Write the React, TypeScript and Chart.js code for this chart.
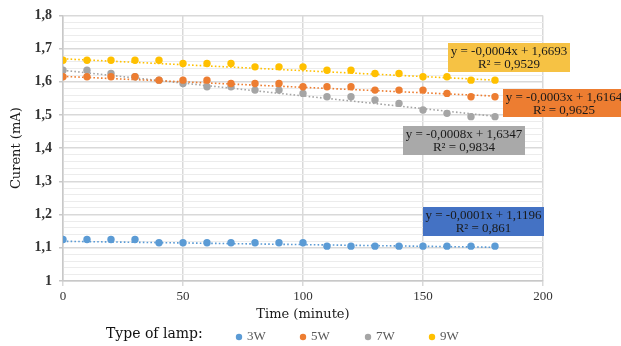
import React, { useEffect, useRef } from 'react';
import { Chart, registerables } from 'chart.js';

Chart.register(...registerables);

const timeMinutes = [0, 10, 20, 30, 40, 50, 60, 70, 80, 90, 100, 110, 120, 130, 140, 150, 160, 170, 180];
const current3W = [1.125, 1.125, 1.125, 1.125, 1.115, 1.115, 1.115, 1.115, 1.115, 1.115, 1.115, 1.105, 1.105, 1.105, 1.105, 1.105, 1.105, 1.105, 1.105];
const current5W = [1.615, 1.615, 1.615, 1.615, 1.605, 1.605, 1.605, 1.595, 1.595, 1.595, 1.585, 1.585, 1.585, 1.575, 1.575, 1.575, 1.565, 1.555, 1.555];
const current7W = [1.635, 1.635, 1.625, 1.615, 1.605, 1.595, 1.585, 1.585, 1.575, 1.575, 1.565, 1.555, 1.555, 1.545, 1.535, 1.515, 1.505, 1.495, 1.495];
const current9W = [1.665, 1.665, 1.665, 1.665, 1.665, 1.655, 1.655, 1.655, 1.645, 1.645, 1.645, 1.635, 1.635, 1.625, 1.625, 1.615, 1.615, 1.605, 1.605];

const trendX = [0, 180];
const trend3W = [1.1196, 1.1016];
const trend5W = [1.6164, 1.5570];
const trend7W = [1.6347, 1.4960];
const trend9W = [1.6693, 1.6050];

const seriesNames = ['3W', '5W', '7W', '9W'];
const seriesColors = ['#5B9BD5', '#ED7D31', '#A5A5A5', '#FFC000'];
const eqLabels = ['y = -0,0001x + 1,1196', 'y = -0,0003x + 1,6164', 'y = -0,0008x + 1,6347', 'y = -0,0004x + 1,6693'];
const r2Labels = ['R² = 0,861', 'R² = 0,9625', 'R² = 0,9834', 'R² = 0,9529'];
const boxColors = ['#4472C4', '#ED7D31', '#A9A9A9', '#F6C244'];

const xTitle = 'Time (minute)';
const yTitle = 'Curent (mA)';
const legendTitle = 'Type of lamp:';

const toPts = (xs: number[], ys: number[]) => xs.map((x, i) => ({ x, y: ys[i] }));

const isMajor = (v: number) => Math.round(v * 100) % 10 === 0;

export default function App() {
  const ref = useRef<HTMLCanvasElement>(null);

  useEffect(() => {
    document.body.style.margin = '0';
    const canvas = ref.current!;
    const series = [current3W, current5W, current7W, current9W];
    const trends = [trend3W, trend5W, trend7W, trend9W];

    const pointSets = series.map((vals, i) => ({
      label: seriesNames[i],
      data: toPts(timeMinutes, vals),
      backgroundColor: seriesColors[i],
      borderColor: seriesColors[i],
      pointRadius: 3.7,
      pointBorderWidth: 0,
      showLine: false,
      order: 1,
    }));
    const trendSets = trends.map((vals, i) => ({
      label: seriesNames[i] + ' trend',
      data: toPts(trendX, vals),
      borderColor: seriesColors[i],
      backgroundColor: seriesColors[i],
      borderWidth: 1.6,
      borderDash: [1.6, 2.2],
      pointRadius: 0,
      showLine: true,
      order: 2,
    }));

    const boxes = [
      { i: 3, x: 448, y: 43, w: 122, h: 29 },
      { i: 1, x: 503, y: 89, w: 122, h: 28 },
      { i: 2, x: 403, y: 126, w: 122, h: 29 },
      { i: 0, x: 423, y: 207, w: 121, h: 29 },
    ];

    const overlay = {
      id: 'overlay',
      afterDraw(chart: any) {
        const c = chart.ctx;
        c.save();
        boxes.forEach((b) => {
          c.fillStyle = boxColors[b.i];
          c.fillRect(b.x, b.y, b.w, b.h);
          c.fillStyle = '#1a1a1a';
          c.font = '13px "Liberation Serif"';
          c.textAlign = 'center';
          c.textBaseline = 'middle';
          const cx = b.x + b.w / 2;
          c.fillText(eqLabels[b.i], cx, b.y + 9);
          c.fillText(r2Labels[b.i], cx, b.y + 21.5);
        });
        c.textAlign = 'left';
        c.textBaseline = 'middle';
        c.fillStyle = '#111';
        c.font = '14px "DejaVu Serif"';
        c.fillText(legendTitle, 106, 334);
        const dotX = [239, 303, 368, 432];
        seriesNames.forEach((n, i) => {
          c.beginPath();
          c.fillStyle = seriesColors[i];
          c.arc(dotX[i], 337, 3.2, 0, Math.PI * 2);
          c.fill();
          c.fillStyle = '#595959';
          c.font = '13px "Liberation Serif"';
          c.fillText(n, dotX[i] + 8, 337);
        });
        c.restore();
      },
    };

    const chart = new Chart(canvas, {
      type: 'scatter',
      data: { datasets: [...pointSets, ...trendSets] as any },
      options: {
        responsive: true,
        maintainAspectRatio: false,
        animation: false,
        layout: { padding: { left: 0, right: 78, top: 12.5, bottom: 24 } },
        plugins: { legend: { display: false }, tooltip: { enabled: false } },
        scales: {
          x: {
            type: 'linear',
            min: 0,
            max: 200,
            ticks: {
              stepSize: 50,
              color: '#333',
              font: { family: 'Liberation Serif', size: 13 },
              padding: 3,
            },
            grid: { color: '#d9d9d9', lineWidth: 1.5, tickLength: 5, tickColor: '#d9d9d9' },
            border: { color: '#c8c8c8', width: 1.5 },
            title: {
              display: true,
              text: xTitle,
              color: '#1a1a1a',
              font: { family: 'DejaVu Serif', size: 13 },
              padding: { top: 0, bottom: 0 },
            },
            afterFit: (s: any) => { s.height = 41; },
          },
          y: {
            type: 'linear',
            min: 1,
            max: 1.8,
            ticks: {
              stepSize: 0.02,
              autoSkip: false,
              color: '#333',
              font: { family: 'Liberation Serif', size: 14, weight: 'bold' },
              padding: 7,
              callback: (v: any) => (isMajor(Number(v)) ? String(Number(Number(v).toFixed(1))).replace('.', ',') : ''),
            },
            grid: {
              color: (ctx: any) => (ctx.tick && isMajor(ctx.tick.value) ? '#d9d9d9' : '#ececec'),
              lineWidth: (ctx: any) => (ctx.tick && isMajor(ctx.tick.value) ? 1.5 : 1),
              tickColor: (ctx: any) => (ctx.tick && isMajor(ctx.tick.value) ? '#c8c8c8' : 'rgba(0,0,0,0)'),
              tickLength: 4,
            },
            border: { color: '#c8c8c8', width: 1.5 },
            title: {
              display: true,
              text: yTitle,
              color: '#1a1a1a',
              font: { family: 'DejaVu Serif', size: 13 },
              padding: { top: 9, bottom: 0 },
            },
            afterFit: (s: any) => { s.width = 63; },
          },
        },
      } as any,
      plugins: [overlay],
    });
    return () => chart.destroy();
  }, []);

  return (
    <div style={{ width: 621, height: 346, position: 'relative' }}>
      <canvas ref={ref} />
    </div>
  );
}
